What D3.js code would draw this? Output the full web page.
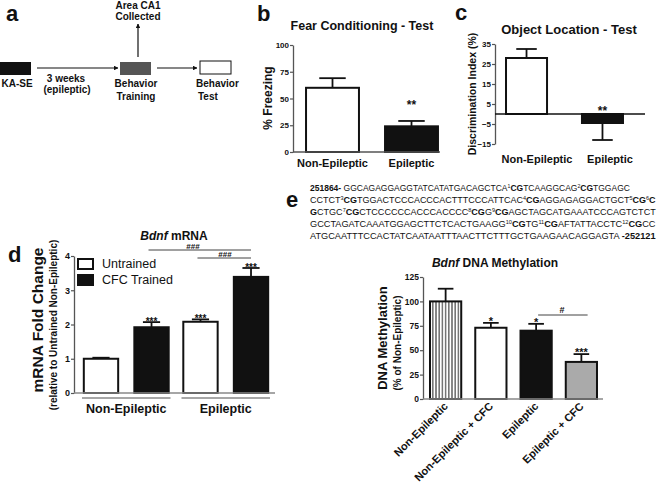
<!DOCTYPE html>
<html>
<head>
<meta charset="utf-8">
<script src="https://cdn.jsdelivr.net/npm/d3@7"></script>
<style>
  body { margin: 0; background: #fff; }
  svg { font-family: "Liberation Sans", Arial, sans-serif; font-weight: bold; fill: #111; }
</style>
</head>
<body>
<svg id="fig" width="659" height="490"></svg>
<script>
// ========================================
// ДАННЫЕ
// ========================================

// b: Fear Conditioning - Test
const fearCategories = ['Non-Epileptic', 'Epileptic'];
const fearValues = [60, 24];
const fearErrors = [9, 5];
const fearStars = ['', '**'];
const fearTicks = [0, 25, 50, 75, 100];

// c: Object Location - Test
const olCategories = ['Non-Epileptic', 'Epileptic'];
const olValues = [28, -4.5];
const olErrors = [4.5, 8.5];
const olStars = ['', '**'];
const olTicks = [-15, -5, 5, 15, 25, 35];

// d: Bdnf mRNA
const mrnaGroups = ['Non-Epileptic', 'Epileptic'];
const mrnaSeries = ['Untrained', 'CFC Trained'];
const mrnaUntrained = [1.0, 2.08];
const mrnaTrained = [1.92, 3.39];
const mrnaUntrainedErr = [0.03, 0.07];
const mrnaTrainedErr = [0.15, 0.26];
const mrnaUntrainedStars = ['', '***'];
const mrnaTrainedStars = ['***', '***'];
const mrnaTicks = [0, 1, 2, 3, 4];

// e: Bdnf DNA Methylation
const methCategories = ['Non-Epileptic', 'Non-Epileptic + CFC', 'Epileptic', 'Epileptic + CFC'];
const methValues = [100, 73, 70, 38];
const methErrors = [13, 5, 7, 8];
const methStars = ['', '*', '*', '***'];
const methTicks = [0, 25, 50, 75, 100, 125];

// последовательность (n - обычный, b - жирный, s - верхний индекс)
const seqLines = [
  [['251864-', 'b'], [' GGCAGAGGAGGTATCATATGACAGCTCA', 'n'], ['1', 's'], ['CG', 'b'], ['TCAAGGCAG', 'n'], ['2', 's'], ['CG', 'b'], ['TGGAGC', 'n']],
  [['CCTCT', 'n'], ['3', 's'], ['CG', 'b'], ['TGGACTCCCACCCACTTTCCCATTCAC', 'n'], ['4', 's'], ['CG', 'b'], ['AGGAGAGGACTGCT', 'n'], ['5', 's'], ['CG', 'b'], ['6', 's'], ['C', 'b']],
  [['G', 'b'], ['CTGC', 'n'], ['7', 's'], ['CG', 'b'], ['CTCCCCCCACCCACCCC', 'n'], ['8', 's'], ['CG', 'b'], ['G', 'n'], ['9', 's'], ['CG', 'b'], ['AGCTAGCATGAAATCCCAGTCTCT', 'n']],
  [['GCCTAGATCAAATGGAGCTTCTCACTGAAGG', 'n'], ['10', 's'], ['CG', 'b'], ['TG', 'n'], ['11', 's'], ['CG', 'b'], ['AFTATTACCTC', 'n'], ['12', 's'], ['CG', 'b'], ['CC', 'n']],
  [['ATGCAATTTCCACTATCAATAATTTAACTTCTTTGCTGAAGAACAGGAGTA ', 'n'], ['-252121', 'b']]
];
// ширина строк на рисунке
const seqWidths = [320, 346, 346, 346, 346];

// ========================================
// ОТРИСОВКА
// ========================================

const svg = d3.select('#fig');
const INK = '#111';
const AXIS = '#555';

const defs = svg.append('defs');
defs.append('marker')
  .attr('id', 'arrow')
  .attr('viewBox', '0 0 10 10')
  .attr('refX', 9).attr('refY', 5)
  .attr('markerWidth', 4).attr('markerHeight', 4)
  .attr('orient', 'auto')
  .append('path').attr('d', 'M0,0L10,5L0,10z').attr('fill', INK);

const stripes = defs.append('pattern')
  .attr('id', 'stripes')
  .attr('patternUnits', 'userSpaceOnUse')
  .attr('width', 3.2).attr('height', 10);
stripes.append('rect').attr('width', 3.2).attr('height', 10).attr('fill', '#fff');
stripes.append('line').attr('x1', 0.8).attr('x2', 0.8).attr('y1', 0).attr('y2', 10)
  .attr('stroke', '#222').attr('stroke-width', 1);

function txt(x, y, s, size, anchor, weight) {
  return svg.append('text')
    .attr('x', x).attr('y', y)
    .attr('font-size', size)
    .attr('text-anchor', anchor || 'middle')
    .attr('font-weight', weight || 'bold')
    .text(s);
}

function panelLabel(x, y, s) {
  txt(x, y, s, 22, 'start');
}

function rotLabel(x, y, s, size) {
  return svg.append('text')
    .attr('transform', `translate(${x},${y}) rotate(-90)`)
    .attr('font-size', size)
    .attr('text-anchor', 'middle')
    .text(s);
}

function yAxis(x, scale, ticks, fontSize) {
  const g = svg.append('g')
    .attr('transform', `translate(${x},0)`)
    .call(d3.axisLeft(scale).tickValues(ticks).tickFormat(d3.format('d'))
      .tickSize(3).tickSizeOuter(0).tickPadding(1));
  g.select('.domain').attr('stroke', AXIS).attr('stroke-width', 1.3);
  g.selectAll('.tick line').attr('stroke', AXIS).attr('stroke-width', 1.2);
  g.selectAll('.tick text')
    .attr('font-size', fontSize)
    .attr('font-weight', 'bold')
    .attr('font-family', '"Liberation Sans", Arial, sans-serif')
    .attr('fill', INK);
  return g;
}

function hLine(x1, x2, y, color, w) {
  svg.append('line')
    .attr('x1', x1).attr('x2', x2).attr('y1', y).attr('y2', y)
    .attr('stroke', color || AXIS).attr('stroke-width', w || 1.3);
}

// бар с односторонней планкой погрешности
function drawBar(x, w, y, v, err, fill) {
  const y0 = y(0);
  const yv = y(v);
  const capW = w * 0.5;
  const cx = x + w / 2;
  const tip = v >= 0 ? y(v + err) : y(v - err);
  svg.append('line')
    .attr('x1', cx).attr('x2', cx).attr('y1', yv).attr('y2', tip)
    .attr('stroke', INK).attr('stroke-width', 1.8);
  svg.append('line')
    .attr('x1', cx - capW / 2).attr('x2', cx + capW / 2).attr('y1', tip).attr('y2', tip)
    .attr('stroke', INK).attr('stroke-width', 1.8);
  svg.append('rect')
    .attr('x', x).attr('width', w)
    .attr('y', Math.min(y0, yv)).attr('height', Math.abs(y0 - yv))
    .attr('fill', fill).attr('stroke', INK).attr('stroke-width', 2);
  return tip;
}

// ---------- a: схема эксперимента ----------
function drawPanelA() {
  panelLabel(6, 21, 'a');
  svg.append('rect').attr('x', -2).attr('y', 62).attr('width', 33).attr('height', 13).attr('fill', INK);
  svg.append('rect').attr('x', 120).attr('y', 62).attr('width', 31).attr('height', 13).attr('fill', '#555');
  svg.append('rect').attr('x', 200).attr('y', 61).attr('width', 31).attr('height', 13)
    .attr('fill', '#fff').attr('stroke', INK).attr('stroke-width', 1);

  const arrows = [[37, 68, 118, 68], [157, 68, 197, 68], [138, 57, 138, 24]];
  arrows.forEach(a => {
    svg.append('line')
      .attr('x1', a[0]).attr('y1', a[1]).attr('x2', a[2]).attr('y2', a[3])
      .attr('stroke', INK).attr('stroke-width', 1.2)
      .attr('marker-end', 'url(#arrow)');
  });

  txt(138, 9, 'Area CA1', 10);
  txt(138, 20, 'Collected', 10);
  txt(17, 87, 'KA-SE', 10);
  txt(66, 82, '3 weeks', 10);
  txt(67, 93, '(epileptic)', 10, 'middle');
  txt(136, 87, 'Behavior', 10);
  txt(136, 100, 'Training', 10);
  txt(196, 87, 'Behavior', 10, 'start');
  txt(198, 100, 'Test', 10, 'start');
}

// ---------- b: Fear Conditioning ----------
function drawPanelB() {
  panelLabel(257, 21, 'b');
  txt(362, 30, 'Fear Conditioning - Test', 12.5);
  const y = d3.scaleLinear().domain([0, 100]).range([152, 45]);
  const x = d3.scaleBand().domain(fearCategories).range([293, 451]).paddingInner(0.33).paddingOuter(0.165);
  const fills = ['#fff', INK];
  fearCategories.forEach((c, i) => {
    const tip = drawBar(x(c), x.bandwidth(), y, fearValues[i], fearErrors[i], fills[i]);
    if (fearStars[i]) txt(x(c) + x.bandwidth() / 2, tip - 12, fearStars[i], 12);
    txt(x(c) + x.bandwidth() / 2, 167, c, 11);
  });
  yAxis(293, y, fearTicks, 8);
  hLine(293, 440, y(0));
  rotLabel(272, 98, '% Freezing', 12);
}

// ---------- c: Object Location ----------
function drawPanelC() {
  panelLabel(455, 20, 'c');
  txt(569, 34, 'Object Location - Test', 13);
  const y = d3.scaleLinear().domain([-15, 35]).range([144, 44]);
  const x = d3.scaleBand().domain(olCategories).range([495, 634]).paddingInner(0.46).paddingOuter(0.145);
  const fills = ['#fff', INK];
  olCategories.forEach((c, i) => {
    drawBar(x(c), x.bandwidth(), y, olValues[i], olErrors[i], fills[i]);
    if (olStars[i]) txt(x(c) + x.bandwidth() / 2, y(0) + 1, olStars[i], 12);
  });
  yAxis(495, y, olTicks, 8);
  hLine(495, 645, y(0), INK, 1.3);
  txt(537, 163, 'Non-Epileptic', 11);
  txt(610, 163, 'Epileptic', 11);
  rotLabel(476, 94, 'Discrimination Index (%)', 10.5);
}

// ---------- d: Bdnf mRNA ----------
function drawPanelD() {
  panelLabel(8, 262, 'd');
  const title = svg.append('text').attr('x', 174).attr('y', 240).attr('font-size', 12).attr('text-anchor', 'middle');
  title.append('tspan').attr('font-style', 'italic').text('Bdnf');
  title.append('tspan').text(' mRNA');

  const y = d3.scaleLinear().domain([0, 4]).range([393, 256]);
  const x0 = d3.scaleBand().domain(mrnaGroups).range([78, 274]).paddingInner(0.03).paddingOuter(0);
  const x1 = d3.scaleBand().domain(mrnaSeries).range([0, x0.bandwidth()]).paddingInner(0.32).paddingOuter(0.115);

  const series = [
    { name: mrnaSeries[0], values: mrnaUntrained, errs: mrnaUntrainedErr, stars: mrnaUntrainedStars, fill: '#fff' },
    { name: mrnaSeries[1], values: mrnaTrained, errs: mrnaTrainedErr, stars: mrnaTrainedStars, fill: INK }
  ];

  mrnaGroups.forEach((g, gi) => {
    series.forEach(s => {
      const bx = x0(g) + x1(s.name);
      const tip = drawBar(bx, x1.bandwidth(), y, s.values[gi], s.errs[gi], s.fill);
      if (s.stars[gi]) txt(bx + x1.bandwidth() / 2, tip + 3, s.stars[gi], 10);
    });
    // скобка группы
    hLine(x0(g) + 4, x0(g) + x0.bandwidth() - 4, 398, '#888', 1.3);
    txt(x0(g) + x0.bandwidth() / 2, 413, g, 12.5);
  });

  yAxis(74, y, mrnaTicks, 9);
  hLine(74, 275, y(0), '#888', 1.3);

  // значимость между группами
  const cxU2 = x0(mrnaGroups[1]) + x1(mrnaSeries[0]) + x1.bandwidth() / 2;
  const cxT1 = x0(mrnaGroups[0]) + x1(mrnaSeries[1]) + x1.bandwidth() / 2;
  const cxT2 = x0(mrnaGroups[1]) + x1(mrnaSeries[1]) + x1.bandwidth() / 2;
  hLine(cxT1 - 3, cxT2, 250, INK, 0.8);
  txt(193, 249, '###', 8);
  hLine(cxU2 - 3, cxT2, 258, INK, 0.8);
  txt(225, 257, '###', 8);

  // легенда
  series.forEach((s, i) => {
    svg.append('rect').attr('x', 78).attr('y', 259 + i * 16).attr('width', 15).attr('height', 10)
      .attr('fill', s.fill).attr('stroke', INK).attr('stroke-width', 2);
    txt(102, 268 + i * 16, s.name, 12.5, 'start', 'normal');
  });

  rotLabel(43, 320, 'mRNA Fold Change', 15.5);
  rotLabel(57, 325, '(relative to Untrained Non-Epileptic)', 10);
}

// ---------- e: последовательность и метилирование ----------
function drawPanelE() {
  panelLabel(286, 207, 'e');

  seqLines.forEach((parts, li) => {
    const g = svg.append('g');
    const t = g.append('text').attr('x', 0).attr('y', 0)
      .attr('font-size', 9).attr('font-weight', 'normal');
    let raised = false;
    parts.forEach(p => {
      const ts = t.append('tspan').text(p[0]);
      if (p[1] === 's') {
        ts.attr('font-size', 5.5).attr('dy', -3.5);
        raised = true;
      } else {
        if (raised) { ts.attr('dy', 3.5); raised = false; }
        if (p[1] === 'b') ts.attr('font-weight', 'bold');
      }
    });
    // растягиваем строку до ширины на рисунке
    const w = t.node().getComputedTextLength();
    g.attr('transform', `translate(310,${191 + li * 12}) scale(${seqWidths[li] / w},1)`);
  });

  const title = svg.append('text').attr('x', 495).attr('y', 267).attr('font-size', 12).attr('text-anchor', 'middle');
  title.append('tspan').attr('font-style', 'italic').text('Bdnf');
  title.append('tspan').text(' DNA Methylation');

  const y = d3.scaleLinear().domain([0, 125]).range([399, 277]);
  const x = d3.scaleBand().domain(methCategories).range([423, 604]).paddingInner(0.31).paddingOuter(0.155);
  const fills = ['url(#stripes)', '#fff', INK, '#aaa'];

  methCategories.forEach((c, i) => {
    const cx = x(c) + x.bandwidth() / 2;
    const tip = drawBar(x(c), x.bandwidth(), y, methValues[i], methErrors[i], fills[i]);
    if (methStars[i]) txt(cx, tip + 2, methStars[i], 11);
    svg.append('text')
      .attr('transform', `translate(${cx + 3},${407}) rotate(-45)`)
      .attr('font-size', 11)
      .attr('text-anchor', 'end')
      .text(c);
  });

  yAxis(423, y, methTicks, 8.5);
  hLine(423, 603, y(0), '#888', 1.3);

  // значимость Epileptic vs Epileptic + CFC
  hLine(x(methCategories[2]) + x.bandwidth() / 2 + 2, x(methCategories[3]) + x.bandwidth() * 0.7, 315, INK, 0.8);
  txt(562, 313, '#', 9);

  rotLabel(387, 338, 'DNA Methylation', 13);
  rotLabel(401, 343, '(% of Non-Epileptic)', 10);
}

drawPanelA();
drawPanelB();
drawPanelC();
drawPanelD();
drawPanelE();
</script>
</body>
</html>
